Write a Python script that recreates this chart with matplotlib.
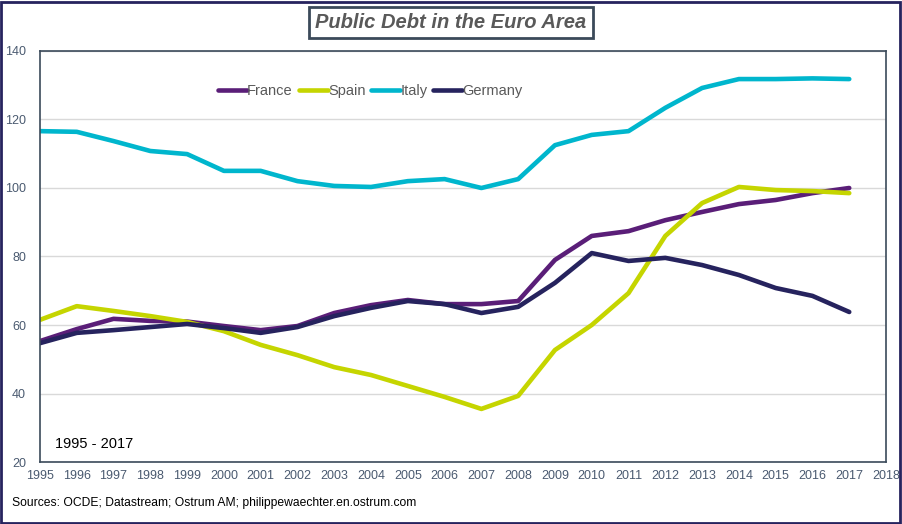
import matplotlib
matplotlib.use("Agg")
import matplotlib.pyplot as plt
from matplotlib.patches import Rectangle

plt.rcParams['font.family'] = ['Liberation Sans', 'DejaVu Sans']

years = list(range(1995, 2018))

france = [55.3, 58.8, 61.8, 61.2, 61.0, 59.7, 58.5, 59.7, 63.5, 65.8, 67.3, 66.1,
          66.1, 67.0, 79.0, 86.0, 87.4, 90.6, 93.0, 95.3, 96.5, 98.5, 100.0]
spain = [61.5, 65.5, 64.1, 62.6, 60.9, 58.2, 54.2, 51.2, 47.7, 45.4, 42.2, 39.0,
         35.5, 39.3, 52.7, 60.0, 69.3, 86.0, 95.6, 100.3, 99.4, 99.1, 98.5]
italy = [116.6, 116.4, 113.7, 110.8, 109.9, 105.0, 105.0, 102.0, 100.6, 100.3, 102.0, 102.6,
         100.0, 102.6, 112.5, 115.5, 116.6, 123.4, 129.2, 131.8, 131.8, 132.0, 131.8]
germany = [54.7, 57.7, 58.5, 59.4, 60.3, 59.1, 57.7, 59.4, 62.6, 65.0, 67.0, 66.1,
           63.5, 65.3, 72.3, 81.0, 78.7, 79.6, 77.5, 74.6, 70.8, 68.5, 63.8]

series = [('France', france, '#5a1e78'),
          ('Spain', spain, '#c5d500'),
          ('Italy', italy, '#00b6cd'),
          ('Germany', germany, '#26235e')]

tick_color = '#4a5a70'
frame_color = '#3b4a5a'

fig = plt.figure(figsize=(9.02, 5.24), dpi=100)
ax = fig.add_axes([0.0443, 0.1183, 0.938, 0.7844])

for name, vals, col in series:
    ax.plot(years, vals, color=col, lw=3.3, label=name, solid_capstyle='round')

ax.set_xlim(1995, 2018)
ax.set_ylim(20, 140)
ax.set_xticks(range(1995, 2019))
ax.set_yticks(range(20, 141, 20))
ax.tick_params(axis='both', length=0, colors=tick_color, labelsize=9)
ax.tick_params(axis='x', pad=6)
ax.tick_params(axis='y', pad=10)
ax.grid(axis='y', color='#d9d9d9', lw=1)
ax.set_axisbelow(True)
for s in ax.spines.values():
    s.set_color(frame_color)
    s.set_linewidth(1.2)

leg = ax.legend(loc='upper left', bbox_to_anchor=(0.195, 0.952), ncol=4, frameon=False,
                fontsize=10.5, handlelength=2.0, handletextpad=0.0, columnspacing=0.4)
for t in leg.get_texts():
    t.set_color('#595959')

ax.text(0.018, 0.035, '1995 - 2017', transform=ax.transAxes, fontsize=10.5, color='black')

fig.text(0.5, 0.957, 'Public Debt in the Euro Area', ha='center', va='center',
         fontsize=14.5, fontweight='bold', fontstyle='italic', color='#595959',
         bbox=dict(boxstyle='square,pad=0.3', fc='white', ec=frame_color, lw=2))

fig.text(0.013, 0.04, 'Sources: OCDE; Datastream; Ostrum AM; philippewaechter.en.ostrum.com',
         fontsize=8.7, color='black', va='center')

fig.patches.append(Rectangle((0.001, 0.002), 0.997, 0.995, transform=fig.transFigure,
                             fill=False, ec='#26235e', lw=2))

fig.savefig('out.png', dpi=100, facecolor='white')
